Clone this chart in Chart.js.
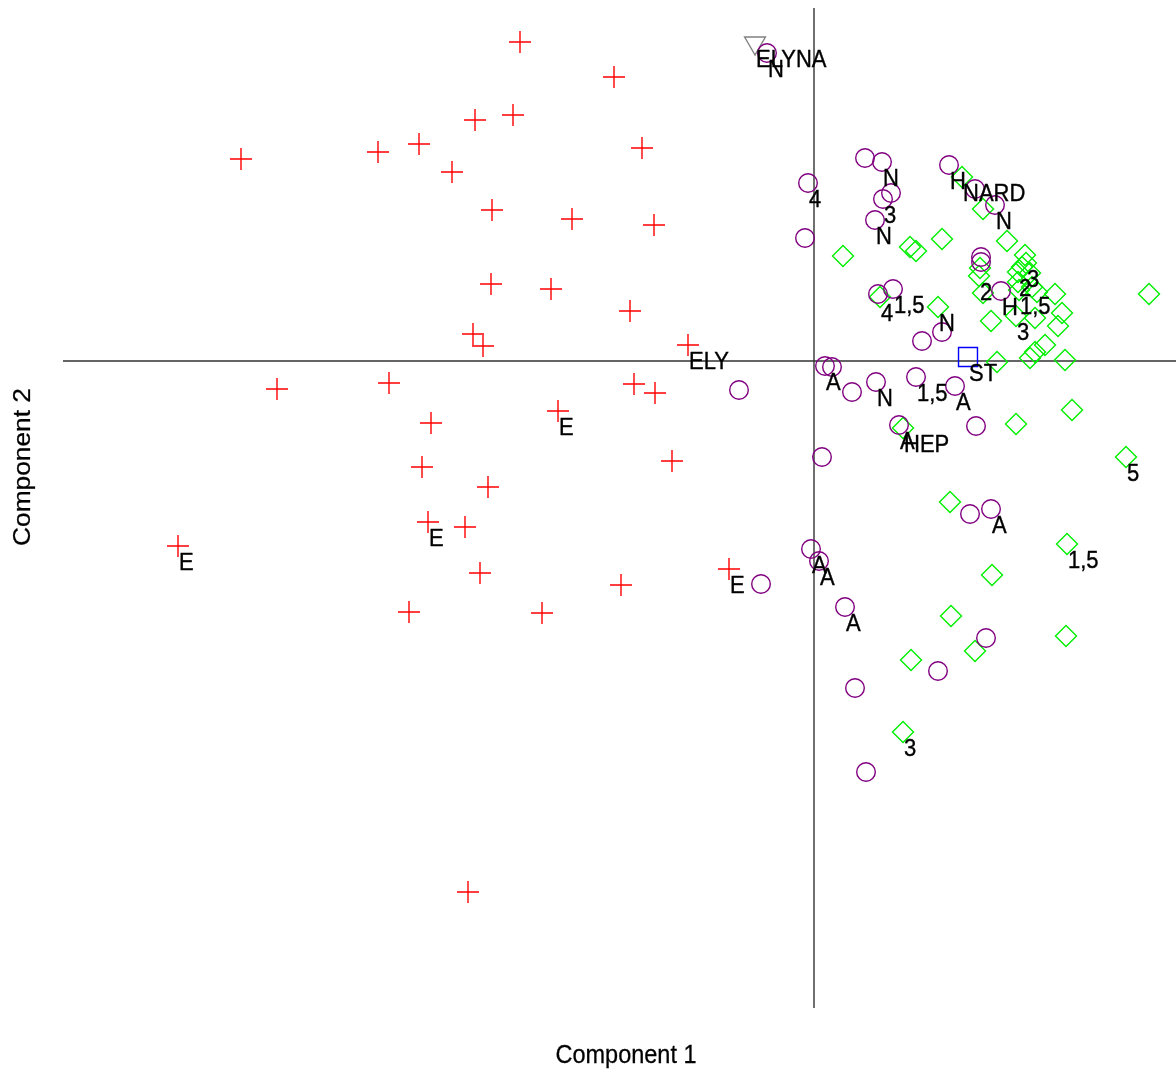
<!DOCTYPE html>
<html>
<head>
<meta charset="utf-8">
<script src="https://cdn.jsdelivr.net/npm/chart.js@4.4.1/dist/chart.umd.min.js"></script>
<style>
  html, body { margin: 0; padding: 0; background: #ffffff; }
  canvas { display: block; }
</style>
</head>
<body>
<canvas id="pca" width="1176" height="1070"></canvas>
<script>
// Ordination scores on the first two components, one group per marker.
const groupE_x = [-2.94, -2.00, -3.39, -3.01, -5.73, -4.36, -3.95, -3.62, -1.72, -3.22, -2.42, -1.60,
  -3.23, -2.63, -1.84, -3.41, -3.31, -1.26, -5.37, -4.25, -1.80, -1.59, -2.56, -3.83,
  -3.92, -1.42, -3.26, -3.86, -3.49, -6.36, -3.34, -0.85, -1.93, -4.05, -2.72, -3.46];
const groupE_y = [3.19, 2.84, 2.41, 2.46, 2.02, 2.09, 2.17, 1.89, 2.13, 1.51, 1.42, 1.36,
  0.77, 0.72, 0.50, 0.27, 0.15, 0.16, -0.28, -0.22, -0.23, -0.32, -0.50, -0.62,
  -1.06, -1.00, -1.26, -1.61, -1.66, -1.85, -2.12, -2.08, -2.24, -2.51, -2.52, -5.31];
const groupE_lab = ["", "", "", "", "", "", "", "", "", "", "", "",
  "", "", "", "", "", "ELY", "", "", "", "", "E", "",
  "", "", "", "E", "", "E", "", "E", "", "", "", ""];

const groupA_x = [-0.47, -0.06, 0.51, 0.68, 0.69, 0.77, 0.61, -0.09, 1.35, 1.61, 1.81, 1.67, 1.67,
  1.87, 0.64, 0.79, 1.28, 1.08, 0.11, 0.18, 0.38, 0.62, 1.02, 1.41, 0.85, 1.62,
  0.08, -0.75, 1.56, 1.77, -0.03, 0.05, -0.53, 0.31, 1.24, 1.72, 0.41, 0.52];
const groupA_y = [3.08, 1.78, 2.03, 1.99, 1.62, 1.68, 1.41, 1.23, 1.96, 1.72, 1.56, 1.04, 0.99,
  0.70, 0.67, 0.72, 0.29, 0.20, -0.05, -0.06, -0.31, -0.21, -0.16, -0.25, -0.64, -0.65,
  -0.96, -0.29, -1.53, -1.48, -1.88, -2.00, -2.23, -2.46, -3.10, -2.77, -3.27, -4.11];
const groupA_lab = ["N", "4", "", "N", "3", "", "N", "", "H", "", "N", "", "",
  "H", "", "1,5", "", "", "A", "", "", "N", "1,5", "A", "A", "",
  "", "", "", "A", "A", "A", "", "A", "", "", "", ""];

const groupN_x = [0.29, 0.96, 1.02, 1.28, 1.48, 1.69, 1.93, 2.11, 2.12, 2.08, 2.04, 2.16,
  1.66, 1.65, 1.69, 2.04, 2.18, 2.23, 2.05, 2.41, 2.48, 2.44, 2.21, 2.02, 1.77,
  1.24, 0.66, 2.31, 2.21, 2.16, 1.83, 2.51, 3.35, 0.89, 2.58, 2.02, 3.12, 1.36,
  2.53, 1.78, 1.37, 1.61, 2.52, 0.97, 0.89];
const groupN_y = [1.05, 1.14, 1.10, 1.22, 1.84, 1.52, 1.20, 1.06, 0.98, 0.94, 0.89, 0.88,
  0.93, 0.85, 0.68, 0.79, 0.74, 0.69, 0.71, 0.67, 0.48, 0.35, 0.43, 0.45, 0.40,
  0.54, 0.64, 0.16, 0.09, 0.03, -0.01, 0.01, 0.67, -0.67, -0.49, -0.63, -0.96, -1.41,
  -1.83, -2.14, -2.55, -2.90, -2.75, -2.99, -3.71];
const groupN_lab = ["", "", "", "", "NARD", "", "", "", "3", "", "2", "",
  "", "2", "", "", "", "", "1,5", "", "", "", "", "3", "",
  "N", "4", "", "", "", "", "", "", "HEP", "", "", "5", "",
  "1,5", "", "", "", "", "", "3"];

const groupS_x = [1.54];
const groupS_y = [0.04];
const groupS_lab = ["ST"];

const groupY_x = [-0.59];
const groupY_y = [3.18];
const groupY_lab = ["ELYNA"];

// Visible window of both components
const xRange = [-7.51, 3.62];
const yRange = [-6.47, 3.53];

const axisTitles = ["Component 1", "Component 2"];

const pts = (xs, ys) => xs.map((x, i) => ({ x: x, y: ys[i] }));

// Text in this figure is slightly taller than wide
const STRETCH = 1.12;
const LABEL_FONT = '22px "Liberation Sans", Arial, sans-serif';
const TITLE_FONT = '23.5px "Liberation Sans", Arial, sans-serif';

// Zero lines crossing at the origin
const originLines = {
  id: 'originLines',
  beforeDatasetsDraw(chart) {
    const { ctx, chartArea: a, scales: { x, y } } = chart;
    const x0 = x.getPixelForValue(0);
    const y0 = y.getPixelForValue(0);
    ctx.save();
    ctx.strokeStyle = '#333333';
    ctx.lineWidth = 1.4;
    ctx.beginPath();
    ctx.moveTo(a.left, y0);
    ctx.lineTo(a.right, y0);
    ctx.moveTo(x0, a.top);
    ctx.lineTo(x0, a.bottom);
    ctx.stroke();
    ctx.restore();
  }
};

// Write text with a hairline outline so the strokes read a little heavier
function solidText(ctx, txt) {
  ctx.fillText(txt, 0, 0);
  ctx.strokeText(txt, 0, 0);
}

// Point labels, written just below and right of each marker
const pointLabels = {
  id: 'pointLabels',
  afterDatasetsDraw(chart) {
    const { ctx } = chart;
    ctx.save();
    ctx.fillStyle = '#000000';
    ctx.strokeStyle = '#000000';
    ctx.lineWidth = 0.35;
    ctx.font = LABEL_FONT;
    ctx.textAlign = 'left';
    ctx.textBaseline = 'alphabetic';
    chart.data.datasets.forEach((ds, di) => {
      const meta = chart.getDatasetMeta(di);
      (ds.pointText || []).forEach((txt, i) => {
        if (!txt) return;
        const el = meta.data[i];
        ctx.save();
        ctx.translate(el.x + 1, el.y + 24);
        ctx.scale(1, STRETCH);
        solidText(ctx, txt);
        ctx.restore();
      });
    });
    ctx.restore();
  }
};

// Axis titles below and to the left of the plotting region
const axisTitleText = {
  id: 'axisTitleText',
  afterDraw(chart) {
    const { ctx } = chart;
    ctx.save();
    ctx.fillStyle = '#000000';
    ctx.strokeStyle = '#000000';
    ctx.lineWidth = 0.25;
    ctx.font = TITLE_FONT;
    ctx.textAlign = 'center';
    ctx.textBaseline = 'alphabetic';
    ctx.save();
    ctx.translate(626, 1063);
    ctx.scale(1, STRETCH);
    solidText(ctx, axisTitles[0]);
    ctx.restore();
    ctx.save();
    ctx.translate(30, 467);
    ctx.scale(1, STRETCH);
    ctx.rotate(-Math.PI / 2);
    solidText(ctx, axisTitles[1]);
    ctx.restore();
    ctx.restore();
  }
};

const marker = (style, color, radius, extra) => Object.assign({
  pointStyle: style,
  borderColor: color,
  backgroundColor: 'rgba(0,0,0,0)',
  pointRadius: radius,
  pointHoverRadius: radius,
  pointBorderWidth: 1.4,
  borderWidth: 1.4,
  showLine: false,
  clip: false
}, extra || {});

new Chart(document.getElementById('pca'), {
  type: 'scatter',
  data: {
    datasets: [
      marker('cross', '#ff0000', 11, { data: pts(groupE_x, groupE_y), pointText: groupE_lab }),
      marker('circle', '#800080', 9.3, { data: pts(groupA_x, groupA_y), pointText: groupA_lab }),
      marker('rectRot', '#00ee00', 10.5, { data: pts(groupN_x, groupN_y), pointText: groupN_lab }),
      marker('rect', '#0000ff', 13.4, { data: pts(groupS_x, groupS_y), pointText: groupS_lab }),
      marker('triangle', '#808080', 12, { data: pts(groupY_x, groupY_y), pointText: groupY_lab, pointRotation: 180 })
    ]
  },
  options: {
    responsive: false,
    animation: false,
    events: [],
    layout: { autoPadding: false, padding: { left: 63, top: 8, right: 0, bottom: 62 } },
    plugins: { legend: { display: false }, tooltip: { enabled: false } },
    scales: {
      x: { type: 'linear', display: false, min: xRange[0], max: xRange[1] },
      y: { type: 'linear', display: false, min: yRange[0], max: yRange[1] }
    }
  },
  plugins: [originLines, pointLabels, axisTitleText]
});
</script>
</body>
</html>
